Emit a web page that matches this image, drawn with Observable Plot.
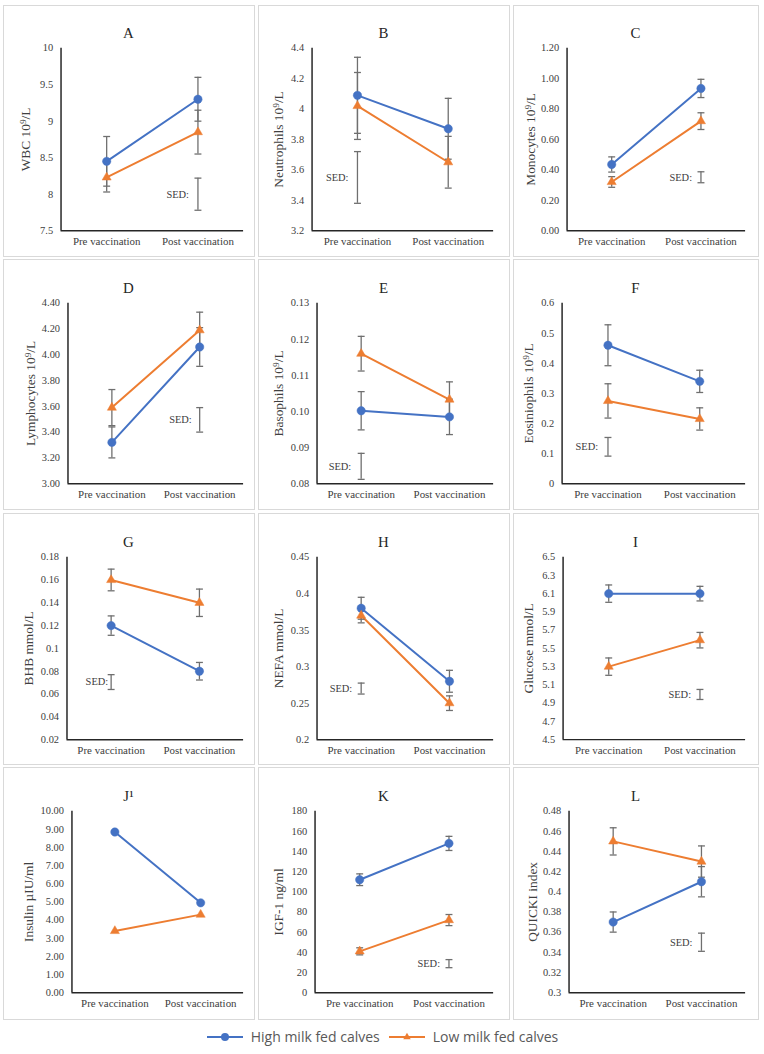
<!DOCTYPE html>
<html>
<head>
<meta charset="utf-8">
<script src="https://cdn.jsdelivr.net/npm/d3@7"></script>
<script src="https://cdn.jsdelivr.net/npm/@observablehq/plot@0.6"></script>
<style>
  body { margin: 0; background: #fff; width: 764px; height: 1054px; position: relative; overflow: hidden; }
  .panel { position: absolute; border: 1px solid #d9d9d9; box-sizing: border-box; background: #fff; }
  .panel svg { position: absolute; left: -1px; top: -1px; overflow: visible; font-family: 'Liberation Serif', 'Times New Roman', serif; }
  #legend { position: absolute; left: 0; top: 1027px; width: 764px; display: flex; justify-content: center; align-items: center;
            font-family: "Open Sans", sans-serif; font-size: 14px; color: #595959; }
  #legend .item { display: flex; align-items: center; margin: 0 4px; }
  #legend svg { margin-right: 7px; }
</style>
</head>
<body>
<div id="chart"></div>
<div id="legend"></div>
<script>
// ---- data -------------------------------------------------------------
const phases = ["Pre vaccination", "Post vaccination"];
const groups = ["High milk fed calves", "Low milk fed calves"];
const panelLetters = ["A", "B", "C", "D", "E", "F", "G", "H", "I", "J\u00b9", "K", "L"];
const yTitles = [
  "WBC 10\u2079/L", "Neutrophils 10\u2079/L", "Monocytes 10\u2079/L",
  "Lymphocytes 10\u2079/L", "Basophils 10\u2079/L", "Eosiniophils 10\u2079/L",
  "BHB mmol/L", "NEFA mmol/L", "Glucose mmol/L",
  "Insulin \u00b5IU/ml", "IGF-1 ng/ml", "QUICKI index"
];
// means [pre, post] for each panel
const highMean = [[8.45, 9.30], [4.09, 3.87], [0.435, 0.935], [3.32, 4.06], [0.1002, 0.0985], [0.46, 0.34],
                  [0.12, 0.08], [0.38, 0.28], [6.1, 6.1], [8.85, 4.95], [112, 148], [0.37, 0.41]];
const lowMean  = [[8.23, 8.85], [4.02, 3.65], [0.32, 0.72], [3.59, 4.19], [0.116, 0.1033], [0.275, 0.215],
                  [0.16, 0.14], [0.37, 0.25], [5.3, 5.59], [3.4, 4.3], [41, 72], [0.45, 0.43]];
// standard errors [pre, post]; null where none is drawn
const highErr = [[0.34, 0.30], [0.25, 0.20], [0.05, 0.06], [0.12, 0.15], [0.0053, 0.0049], [0.068, 0.037],
                 [0.0085, 0.0077], [0.015, 0.015], [0.095, 0.08], null, [5.8, 7], [0.01, 0.015]];
const lowErr  = [[0.20, 0.30], [0.22, 0.17], [0.035, 0.055], [0.14, 0.14], [0.0048, 0.0049], [0.057, 0.037],
                 [0.0095, 0.012], [0.01, 0.01], [0.095, 0.085], null, [3.5, 5.5], [0.0135, 0.0155]];
// standard error of the difference: phase index, centre, half length
const sedPhase  = [1, 0, 1, 1, 0, 0, 0, 0, 1, null, 1, 1];
const sedCenter = [8.0, 3.55, 0.351, 3.495, 0.0848, 0.1225, 0.0705, 0.27, 4.995, null, 28.8, 0.35];
const sedHalf   = [0.22, 0.17, 0.036, 0.095, 0.0036, 0.031, 0.0065, 0.0075, 0.055, null, 4, 0.009];
// y axis ticks
const yTicks = [
  [7.5, 8, 8.5, 9, 9.5, 10],
  [3.2, 3.4, 3.6, 3.8, 4, 4.2, 4.4],
  [0, 0.2, 0.4, 0.6, 0.8, 1.0, 1.2],
  [3.0, 3.2, 3.4, 3.6, 3.8, 4.0, 4.2, 4.4],
  [0.08, 0.09, 0.10, 0.11, 0.12, 0.13],
  [0, 0.1, 0.2, 0.3, 0.4, 0.5, 0.6],
  [0.02, 0.04, 0.06, 0.08, 0.1, 0.12, 0.14, 0.16, 0.18],
  [0.2, 0.25, 0.3, 0.35, 0.4, 0.45],
  [4.5, 4.7, 4.9, 5.1, 5.3, 5.5, 5.7, 5.9, 6.1, 6.3, 6.5],
  [0, 1, 2, 3, 4, 5, 6, 7, 8, 9, 10],
  [0, 20, 40, 60, 80, 100, 120, 140, 160, 180],
  [0.3, 0.32, 0.34, 0.36, 0.38, 0.4, 0.42, 0.44, 0.46, 0.48]
];
const tickDecimals = [null, null, 2, 2, 2, null, null, null, 1, 2, null, null];

// ---- layout (page pixels) ---------------------------------------------
const colLeft = [3, 258, 513], colRight = [255, 510, 759];
const rowTop = [5, 259, 513, 767], rowBottom = [257, 510, 765, 1020];
const frameLeft = [61, 312, 567, 68, 317, 562, 67, 317, 563, 72, 315, 569];
const frameRight = [245, 495, 747];
const frameTop = [48, 303, 557, 811], frameBottom = [232, 485, 741, 994];
const titleGap = [36, 34, 37, 38, 39, 34, 39, 39, 35, 44, 37, 37];
const sedGap = [9, 9, 9, 8, 10, 10, 3, 9, 9, 9, 9, 9];

const blue = "#4472C4", orange = "#ED7D31", errGray = "#6f6f6f", axisInk = "#262626", textInk = "#404040";
const serif = "'Liberation Serif', 'Times New Roman', serif";

// horizontal cap used at the ends of error bars
const capSymbol = {
  draw(ctx, size) { const w = Math.sqrt(size / Math.PI); ctx.moveTo(-w, 0); ctx.lineTo(w, 0); }
};

const chart = document.getElementById("chart");

panelLetters.forEach((letter, i) => {
  const col = i % 3, row = Math.floor(i / 3);
  const bx = colLeft[col], by = rowTop[row];
  const width = colRight[col] - bx, height = rowBottom[row] - by;
  const marginLeft = frameLeft[i] - bx, marginRight = colRight[col] - frameRight[col];
  const marginTop = frameTop[row] - by, marginBottom = rowBottom[row] - frameBottom[row];

  const series = [
    {group: groups[0], mean: highMean[i], err: highErr[i]},
    {group: groups[1], mean: lowMean[i], err: lowErr[i]}
  ];
  const points = series.flatMap(s => s.mean.map((v, p) => ({group: s.group, phase: p, value: v})));
  const bars = series.flatMap(s => s.err ? s.err.map((e, p) => ({group: s.group, phase: p, lo: s.mean[p] - e, hi: s.mean[p] + e})) : []);
  if (sedPhase[i] != null) {
    bars.push({group: "SED", phase: sedPhase[i], lo: sedCenter[i] - sedHalf[i], hi: sedCenter[i] + sedHalf[i]});
  }
  const caps = bars.flatMap(b => [{phase: b.phase, y: b.lo}, {phase: b.phase, y: b.hi}]);
  const sed = sedPhase[i] != null ? [{phase: sedPhase[i], y: sedCenter[i]}] : [];
  const ticks = yTicks[i];
  const fmt = tickDecimals[i] == null ? (d => String(d)) : (d => d.toFixed(tickDecimals[i]));

  const plot = Plot.plot({
    width, height, marginLeft, marginRight, marginTop, marginBottom,
    style: {fontFamily: serif, color: textInk, background: "transparent", overflow: "visible"},
    x: {type: "linear", domain: [-0.5, 1.5]},
    y: {domain: [ticks[0], ticks[ticks.length - 1]]},
    marks: [
      Plot.axisY({ticks, tickSize: 0, tickPadding: 8, tickFormat: fmt, fontSize: 10.5, fontFamily: serif, label: null}),
      Plot.axisX({ticks: [0, 1], tickSize: 0, tickPadding: 7, tickFormat: d => phases[d], fontSize: 11, fontFamily: serif, label: null}),
      Plot.ruleY([ticks[0]], {stroke: axisInk, strokeWidth: 1.5}),
      Plot.ruleX([-0.5], {stroke: axisInk, strokeWidth: 1.5}),
      Plot.line(points, {x: "phase", y: "value", z: "group",
        stroke: d => d.group === groups[0] ? blue : orange, strokeWidth: 2}),
      Plot.ruleX(bars, {x: "phase", y1: "lo", y2: "hi", stroke: errGray, strokeWidth: 1.3}),
      Plot.dot(caps, {x: "phase", y: "y", symbol: capSymbol, r: 3.5, fill: "none", stroke: errGray, strokeWidth: 1.3}),
      Plot.dot(points.filter(d => d.group === groups[0]), {x: "phase", y: "value", symbol: "circle", r: 4.2, fill: blue, stroke: blue, strokeWidth: 0.5}),
      Plot.dot(points.filter(d => d.group === groups[1]), {x: "phase", y: "value", symbol: "triangle", r: 3.4, fill: orange, stroke: orange, strokeWidth: 0.5}),
      Plot.text(sed, {x: "phase", y: "y", text: () => "SED:", textAnchor: "end", dx: -sedGap[i], fontSize: 10.5, fontFamily: serif, fill: textInk}),
      Plot.text([yTitles[i]], {frameAnchor: "left", textAnchor: "middle", rotate: -90, dx: -titleGap[i], fontSize: 13.5, fontFamily: serif, fill: textInk}),
      Plot.text([letter], {frameAnchor: "top", textAnchor: "middle", dy: -21, dx: (marginRight - marginLeft) / 2, fontSize: 15, fontFamily: serif, fill: "#262626"})
    ]
  });

  const box = document.createElement("div");
  box.className = "panel";
  box.style.left = bx + "px";
  box.style.top = by + "px";
  box.style.width = width + "px";
  box.style.height = height + "px";
  box.appendChild(plot);
  chart.appendChild(box);
});

// legend below the grid
const legend = d3.select("#legend");
groups.forEach((g, k) => {
  const item = legend.append("div").attr("class", "item");
  const svg = item.append("svg").attr("width", 38).attr("height", 14);
  const color = k === 0 ? blue : orange;
  svg.append("line").attr("x1", 1).attr("x2", 37).attr("y1", 7).attr("y2", 7)
    .attr("stroke", color).attr("stroke-width", 2);
  if (k === 0) {
    svg.append("circle").attr("cx", 19).attr("cy", 7).attr("r", 4).attr("fill", color);
  } else {
    svg.append("path").attr("transform", "translate(19,7)")
      .attr("d", d3.symbol(d3.symbolTriangle2, 40)()).attr("fill", color);
  }
  item.append("span").text(g);
});
</script>
</body>
</html>
